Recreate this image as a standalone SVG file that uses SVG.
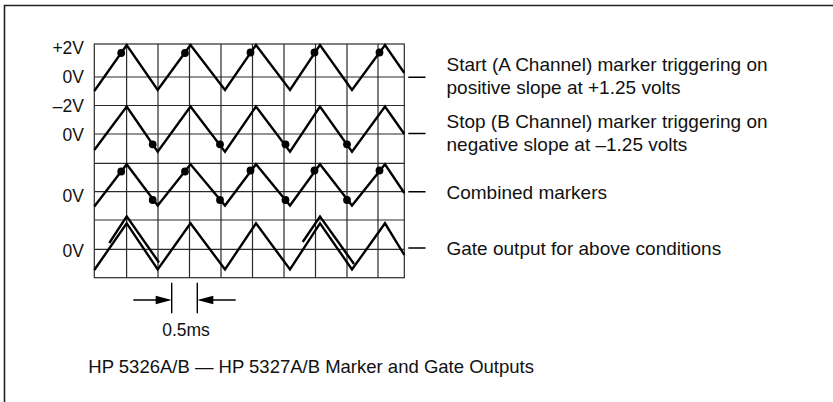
<svg xmlns="http://www.w3.org/2000/svg" width="833" height="402" viewBox="0 0 833 402">
<style>
.frame{fill:none;stroke:#222;stroke-width:1.6}
.grid{fill:none;stroke:#2a2a2a;stroke-width:1.2}
.wave{fill:none;stroke:#000;stroke-width:2.4;stroke-linejoin:miter;stroke-linecap:butt}
.dot{fill:#000}
.tick{stroke:#000;stroke-width:1.4}
.lbl{font-family:"Liberation Sans",Arial,sans-serif;font-size:17.5px;fill:#111}
.desc{font-family:"Liberation Sans",Arial,sans-serif;font-size:19px;fill:#111}
.cap{font-family:"Liberation Sans",Arial,sans-serif;font-size:18.5px;fill:#111}
.dim{stroke:#000;stroke-width:1.4;fill:none}
.head{fill:#000}
</style>
<rect width="833" height="402" fill="#fff"/>
<path class="frame" d="M4.5,402 V5.5 H833"/>

<g id="grid">
<rect class="grid" x="94.3" y="44" width="310" height="233.7"/>
<path class="grid" d="M126.6,44V277.7 M158,44V277.7 M189.5,44V277.7 M221,44V277.7 M252.5,44V277.7 M284,44V277.7 M315.5,44V277.7 M347,44V277.7 M378,44V277.7"/>
<path class="grid" d="M94.3,77H404.3 M94.3,105.5H404.3 M94.3,134H404.3 M94.3,163.3H404.3 M94.3,191.7H404.3 M94.3,220H404.3 M94.3,249.3H404.3"/>
</g>

<g id="axis-labels">
<text class="lbl" x="84" y="54" text-anchor="end">+2V</text>
<text class="lbl" x="84" y="83.3" text-anchor="end">0V</text>
<text class="lbl" x="84" y="112.3" text-anchor="end">–2V</text>
<text class="lbl" x="84" y="141" text-anchor="end">0V</text>
<text class="lbl" x="84" y="201.7" text-anchor="end">0V</text>
<text class="lbl" x="84" y="256.7" text-anchor="end">0V</text>
</g>

<g id="trace-start">
<path class="wave" d="M94.3,91 L126.7,45 L157.7,90 L190.5,45 L225,90 L256,45 L290,90 L320,45 L352,90 L385,45 L404.3,73"/>
<circle class="dot" cx="121.2" cy="53" r="3.9"/>
<circle class="dot" cx="185" cy="53" r="3.9"/>
<circle class="dot" cx="250.5" cy="52.5" r="3.9"/>
<circle class="dot" cx="314.5" cy="52.5" r="3.9"/>
<circle class="dot" cx="379.5" cy="52.5" r="3.9"/>
</g>

<g id="trace-stop">
<path class="wave" d="M94.3,150 L126.7,106.5 L157.7,151.7 L190.5,106.5 L225,151.7 L256,106.5 L290,151.7 L320,106.5 L352,151.7 L385,106.5 L404.3,134"/>
<circle class="dot" cx="152.7" cy="144.3" r="3.9"/>
<circle class="dot" cx="220" cy="144.3" r="3.9"/>
<circle class="dot" cx="285.5" cy="144.3" r="3.9"/>
<circle class="dot" cx="347" cy="144.3" r="3.9"/>
</g>

<g id="trace-combined">
<path class="wave" d="M94.3,206.5 L126.7,164.3 L157.7,205.5 L190.5,164.3 L225,205.5 L256,164.3 L290,205.5 L320,164.3 L352,205.5 L385,164.3 L404.3,193"/>
<circle class="dot" cx="121.2" cy="171.5" r="3.9"/>
<circle class="dot" cx="185" cy="171.5" r="3.9"/>
<circle class="dot" cx="250.5" cy="170.5" r="3.9"/>
<circle class="dot" cx="314.5" cy="170.5" r="3.9"/>
<circle class="dot" cx="379.5" cy="170.5" r="3.9"/>
<circle class="dot" cx="152.7" cy="200" r="3.9"/>
<circle class="dot" cx="220" cy="200" r="3.9"/>
<circle class="dot" cx="285.5" cy="200" r="3.9"/>
<circle class="dot" cx="347" cy="200" r="3.9"/>
</g>

<g id="trace-gate">
<path class="wave" d="M94.3,270 L126.7,223.3 L157.7,269.5 L190.5,223.3 L225,269.5 L256,223.3 L290,269.5 L320,223.3 L352,269.5 L385,223.3 L404.3,255"/>
<path class="wave" d="M109.3,243 L126.7,216.3 L159,262.5"/>
<path class="wave" d="M302.7,242 L320,216.5 L354,264"/>
</g>

<g id="connectors">
<path class="tick" d="M408.3,77.3H425.5 M408.3,133.5H425.5 M408.3,191.7H425.5 M408.3,248H425.5"/>
</g>

<g id="descriptions">
<text class="desc" x="446.5" y="70.7">Start (A Channel) marker triggering on</text>
<text class="desc" x="446.5" y="94">positive slope at +1.25 volts</text>
<text class="desc" x="446.5" y="127.7">Stop (B Channel) marker triggering on</text>
<text class="desc" x="446.5" y="151">negative slope at –1.25 volts</text>
<text class="desc" x="446.5" y="199.3">Combined markers</text>
<text class="desc" x="446.5" y="255">Gate output for above conditions</text>
</g>

<g id="dimension">
<path class="dim" d="M171.7,282.7V313.3 M197.3,282.7V313.3 M133.3,300H157 M212,300H235.7"/>
<polygon class="head" points="171.7,300 155.7,295.8 155.7,304.2"/>
<polygon class="head" points="197.3,300 213.3,295.8 213.3,304.2"/>
<text class="lbl" x="186" y="335.7" text-anchor="middle">0.5ms</text>
</g>

<g id="caption">
<text class="cap" x="88.3" y="372.7">HP 5326A/B — HP 5327A/B Marker and Gate Outputs</text>
</g>
</svg>
